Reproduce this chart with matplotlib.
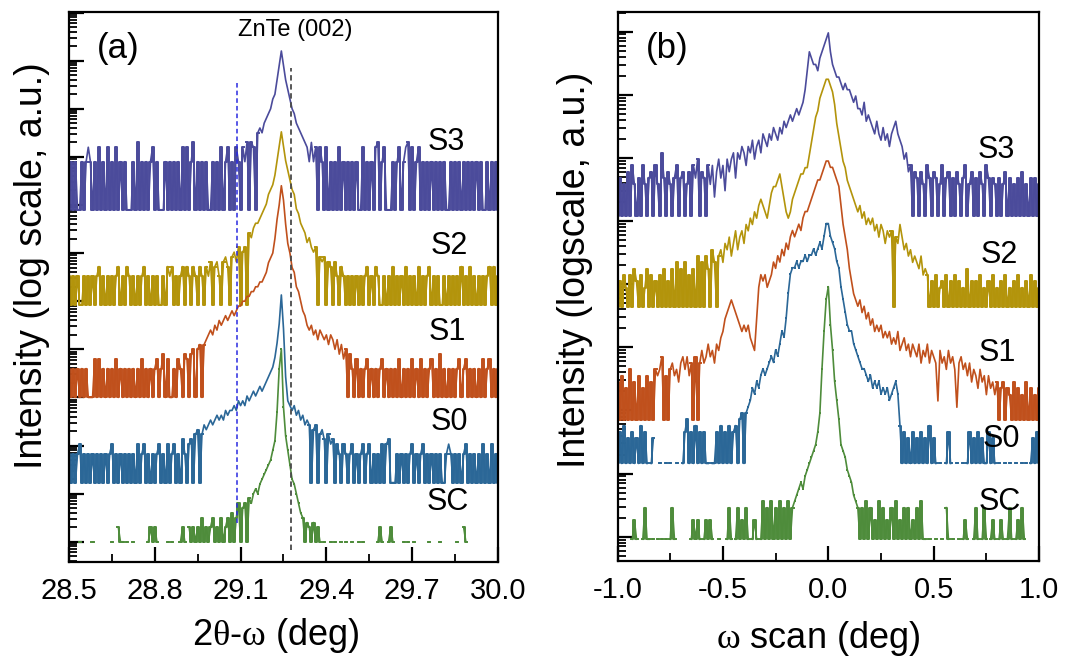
import numpy as np
import matplotlib
matplotlib.use("Agg")
import matplotlib.pyplot as plt
from matplotlib.ticker import LogLocator, MultipleLocator, NullFormatter

plt.rcParams["font.family"] = ["Liberation Sans", "DejaVu Sans"]
plt.rcParams["mathtext.fontset"] = "custom"
plt.rcParams["mathtext.rm"] = "Liberation Serif"

# ---------------------------------------------------------------- data ---
# Every trace is sampled on a uniform scan grid, one character per point.
# The character is the log level above the trace floor in 0.1-decade steps
# ("0"-"9", "a"-"z", "A"-"Z"); "." is a zero-count point (not drawn on log axis).
LEVELS = "0123456789abcdefghijklmnopqrstuvwxyzABCDEFGHIJKLMNOPQRSTUVWXYZ"

samples = ["S3", "S2", "S1", "S0", "SC"]
colors = ["#4b4b9b", "#b3940b", "#c0501c", "#2b6797", "#4e8c3b"]

# panel (a): 2theta-omega scan
a_start, a_step = 28.5, 0.0075
a_floor = [6.9, 4.92, 3.0, 1.23, 0.0]
a_s3 = ("0a0a00a0ad" "a0a0d0a0d0" "a0d0a0a000" "a0e0a0a0ad" "0a000a0a0a"
        "0a0d0d0ae0" "a0a0a00a0a" "0d0ad0a0da" "0dae0ed0gh" "gijklnorux"
        "urpnlkihgf" "edaead0da0" "d0a0a0d0a0" "a0a0a00d0a" "0a0de0ad00"
        "0a0ad0ade0" "d0ad0a0a0a" "0a0a0a00a0" "a0a0a0a0a0" "a0a00a0a0a" "0")
a_s2 = ("6060600606" "0606806060" "6068060860" "6060680606" "0600608680"
        "6068086086" "0860869089" "609a80ab9c" "0bc0feghhi" "jklnopruxA"
        "xusqonkjhg" "fdecbc0a9a" "0980960860" "6060606068" "0608600606"
        "0806060806" "0608060680" "6060060606" "0608060806" "0606068080" "6")
a_s1 = ("6060606060" "0080806060" "6080606060" "6060806060" "6806908006"
        "08609809a0" "ab0bcdedfe" "gfghghihij" "jkkllmmnno" "opqstuxBEI"
        "FAwurqnmki" "hfefdecedc" "dbdcac9b8a" "0960806068" "0606068060"
        "6060806060" "8060806068" "0609060606" "0680680606" "0608068060" "6")
a_s0 = ("6060680606" "0606060606" "8060606060" "6080680606" "0680608068"
        "060960890a" "b0acbcdcde" "dedfeffgfh" "ghgihijijk" "jklmnoqtxD"
        "wmhgfgefde" "cdc0bc0ab9" "0a89086086" "0680606806" "8060608089"
        "0006060606" "8060680606" "0606006860" "6060680606" "0608060806" "0")
a_sc = (".....0...." ".0........" "0..300.0.." "0......030" "30....0.0."
        "..030.3030" "3050303503" "0503506058" "078098abac" "defghjlrAE"
        "smjgdca865" "04304030.0" "..0.0..0.0" "..0..0.0.." "....030..0"
        "30....0.0." ".0......0." "...0......" ".0..30...." ".........." ".")
a_ticks = [28.5, 28.8, 29.1, 29.4, 29.7, 30.0]
a_ticklabels = ["28.5", "28.8", "29.1", "29.4", "29.7", "30.0"]
a_ref_x = [29.087, 29.276]          # dashed reference positions
a_ref_dec = [(0.39, 9.6), (-0.17, 9.85)]

# panel (b): omega scan
b_start, b_step = -1.0, 0.01
b_floor = [5.08, 3.645, 1.85, 1.16, -0.04]
b_s3 = ("0605070850" "6085067085" "0a60750680" "6705708690" "7608583796"
        "84979a6a9b" "a8bac9bcad" "cbdcedcedf" "efgfghghik" "nqpoonpqrs"
        "tqonmmlklk" "kjijhhgifg" "fedfdcecdb" "defdcb9a78" "0760750860"
        "7605806706" "0750680570" "6075086065" "0605706050" "6070506060" "5")
b_s2 = ("0405305064" "0503605040" "5060406070" "6070506080" "7086097089"
        "7a9b8ac9bc" "adcedfeghg" "fegijjkljh" "fefhijkllm" "moqsuvxyzA"
        "Azywtrpnmk" "jihgfgefde" "decdbdcacb" "c0badb9a89" "7876856504"
        "0503405040" "5040306040" "4050304050" "3040503040" "5030405040" "3")
b_s1 = ("6070508060" "7050706087" "8a07089786" "9a8a790a09" "b9acab9cbd"
        "eghijihgfe" "fefdcbglnm" "nlmnpoqprq" "srtutuvuwx" "xyzABCCDEF"
        "FEEDCByvtr" "omkjijhigh" "fgefefdede" "cdcebcdbca" "cbac9bac9b"
        "a93b9a8b9a" "829a897968" "7586747564" "6056054060" "5040605040" "5")
b_s0 = ("0506040504" "06050.04.." "0..0.0..0." ".057050605" "0500.00506"
        "0506056078" "089acbdcef" "efghgihjlk" "nruvvwvwwx" "wxxyxyzyAC"
        "CAzywvsqom" "lljihgffed" "ecdcdbcbca" "bcdb605040" "5040504060"
        "40.0..050." ".0..0.0504" "0504005040" ".0..0.0..0" "..0.0.0405" "0")
b_sc = (".......030" "..0500.0.0" ".0.0.050.." ".....03030" ".03030..0."
        "..050.0503" "050.030.06" "0506050605" "060567898a" "bcdefhkrxC"
        "Eyupmjfedb" "a976505060" "5030605030" "5060305050" "3050600.0."
        ".0..0.50.0" "..0.030..0" "50.050.030" ".030.050.0" "3050......" ".")
b_ticks = [-1.0, -0.5, 0.0, 0.5, 1.0]
b_ticklabels = ["-1.0", "-0.5", "0.0", "0.5", "1.0"]


def decode(trace):
    return np.array([-1 if ch == "." else LEVELS.index(ch) for ch in trace])


def draw_traces(ax, start, step, traces, floors, sparse):
    for name, trace, floor, color in zip(samples, traces, floors, colors):
        if len(trace) != 201:
            raise ValueError(f"{name}: {len(trace)} points")
        lev = decode(trace)
        x = start + step * np.arange(len(lev))
        y = np.where(lev < 0, np.nan, 10.0 ** (floor + 0.1 * lev))
        ax.plot(x, y, color=color, lw=1.2)
        # the background counts flip between the floor and a few counts:
        # draw those stretches as steps so they read as a dense band
        at_floor = lev == 0
        near = at_floor | np.roll(at_floor, 1) | np.roll(at_floor, -1)
        ax.plot(x, np.where(near, y, np.nan), color=color, lw=1.4,
                drawstyle="steps-mid")
        if name in sparse:
            ax.plot(x, y, ls="none", marker="s", ms=1.8, mew=0, color=color)


def style_axes(ax, ylim, ticks, ticklabels, minor_step):
    ax.set_yscale("log")
    ax.set_ylim(*ylim)
    ax.yaxis.set_major_locator(LogLocator(base=10, numticks=60))
    ax.yaxis.set_minor_locator(LogLocator(base=10, subs=np.arange(2, 10), numticks=60))
    ax.yaxis.set_major_formatter(NullFormatter())
    ax.yaxis.set_minor_formatter(NullFormatter())
    ax.set_xlim(ticks[0], ticks[-1])
    ax.set_xticks(ticks)
    ax.set_xticklabels(ticklabels, fontsize=21)
    ax.xaxis.set_minor_locator(MultipleLocator(minor_step))
    ax.tick_params(which="major", direction="in", length=11, width=1.6,
                   top=False, right=False, pad=11)
    ax.tick_params(which="minor", direction="in", length=6, width=1.3,
                   top=False, right=False)
    for sp in ax.spines.values():
        sp.set_linewidth(1.6)


fig = plt.figure(figsize=(10.71, 6.57), dpi=100)
ax_a = fig.add_axes([0.0644, 0.1446, 0.4006, 0.8371])
ax_b = fig.add_axes([0.5766, 0.1461, 0.3936, 0.8356])

draw_traces(ax_a, a_start, a_step, [a_s3, a_s2, a_s1, a_s0, a_sc], a_floor, ["SC"])
draw_traces(ax_b, b_start, b_step, [b_s3, b_s2, b_s1, b_s0, b_sc], b_floor, ["S0", "SC"])

# dashed reference lines in panel (a)
ax_a.plot([a_ref_x[0]] * 2, [10 ** d for d in a_ref_dec[0]], color="#2a2ae0",
          lw=1.1, ls=(0, (3, 2)), zorder=6)
ax_a.plot([a_ref_x[1]] * 2, [10 ** d for d in a_ref_dec[1]], color="#4a4a4a",
          lw=1.3, ls=(0, (3, 2)), zorder=6)

style_axes(ax_a, (10 ** -0.42, 10 ** 11.01), a_ticks, a_ticklabels, 0.15)
style_axes(ax_b, (10 ** -0.385, 10 ** 8.31), b_ticks, b_ticklabels, 0.25)

# curve labels
a_label_pos = [(0.879, 0.764), (0.886, 0.575), (0.881, 0.418), (0.886, 0.255), (0.883, 0.109)]
b_label_pos = [(0.898, 0.749), (0.905, 0.557), (0.900, 0.379), (0.910, 0.222), (0.907, 0.107)]
for name, (xa, ya), (xb, yb) in zip(samples, a_label_pos, b_label_pos):
    ax_a.text(xa, ya, name, transform=ax_a.transAxes, fontsize=22, ha="center", va="center")
    ax_b.text(xb, yb, name, transform=ax_b.transAxes, fontsize=22, ha="center", va="center")

ax_a.text(0.114, 0.933, "(a)", transform=ax_a.transAxes, fontsize=25, ha="center", va="center")
ax_b.text(0.117, 0.933, "(b)", transform=ax_b.transAxes, fontsize=25, ha="center", va="center")
ax_a.text(0.527, 0.967, "ZnTe (002)", transform=ax_a.transAxes, fontsize=17, ha="center", va="center")

# axis titles
fig.text(0.0299, 0.596, "Intensity (log scale, a.u.)", rotation=90, fontsize=27,
         ha="center", va="center")
fig.text(0.537, 0.589, "Intensity (logscale, a.u.)", rotation=90, fontsize=27,
         ha="center", va="center")
fig.text(0.257, 0.032, r"2$\mathrm{\theta}$-$\mathrm{\omega}$ (deg)", fontsize=26,
         ha="center", va="center")
fig.text(0.764, 0.028, r"$\mathrm{\omega}$ scan (deg)", fontsize=26,
         ha="center", va="center")

fig.savefig("out.png", dpi=100)
